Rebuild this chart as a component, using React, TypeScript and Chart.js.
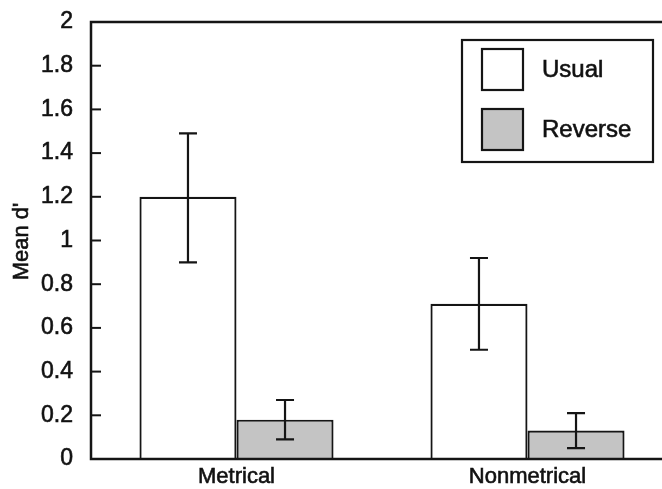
import React, { useEffect, useRef } from "react";
import { Chart, registerables } from "chart.js";

Chart.register(...registerables);

const categories = ["Metrical", "Nonmetrical"];
const seriesNames = ["Usual", "Reverse"];
const usualMeans = [1.2, 0.71];
const usualLow = [0.9, 0.5];
const usualHigh = [1.49, 0.92];
const reverseMeans = [0.18, 0.13];
const reverseLow = [0.09, 0.05];
const reverseHigh = [0.27, 0.21];
const yMin = 0;
const yMax = 2;
const yStep = 0.2;
const yTitle = "Mean d'";

const INK = "#151515";
const FONT = "'Liberation Sans', Arial, Helvetica, sans-serif";

const errLows = [usualLow, reverseLow];
const errHighs = [usualHigh, reverseHigh];

const framePlugin = {
  id: "frame",
  afterDatasetsDraw(chart: any) {
    const { ctx, chartArea, scales } = chart;
    ctx.save();
    ctx.strokeStyle = INK;
    ctx.lineWidth = 2.2;
    chart.data.datasets.forEach((_: any, i: number) => {
      const meta = chart.getDatasetMeta(i);
      meta.data.forEach((el: any, j: number) => {
        const x = el.x;
        const yh = scales.y.getPixelForValue(errHighs[i][j]);
        const yl = scales.y.getPixelForValue(errLows[i][j]);
        ctx.beginPath();
        ctx.moveTo(x, yh);
        ctx.lineTo(x, yl);
        ctx.moveTo(x - 9, yh);
        ctx.lineTo(x + 9, yh);
        ctx.moveTo(x - 9, yl);
        ctx.lineTo(x + 9, yl);
        ctx.stroke();
      });
    });
    ctx.lineWidth = 2.5;
    ctx.strokeRect(
      chartArea.left,
      chartArea.top,
      chartArea.right - chartArea.left,
      chartArea.bottom - chartArea.top
    );
    ctx.lineWidth = 2;
    scales.y.ticks.forEach((t: any) => {
      const y = scales.y.getPixelForValue(t.value);
      ctx.beginPath();
      ctx.moveTo(chartArea.left, y);
      ctx.lineTo(chartArea.left + 10, y);
      ctx.stroke();
    });
    ctx.restore();
  },
  afterDraw(chart: any) {
    const { ctx, chartArea } = chart;
    ctx.save();
    // y title
    ctx.save();
    ctx.translate(22, (chartArea.top + chartArea.bottom) / 2 + 1);
    ctx.rotate(-Math.PI / 2);
    ctx.font = `22px ${FONT}`;
    ctx.fillStyle = "#111";
    ctx.strokeStyle = "#111";
    ctx.lineWidth = 0.6;
    ctx.textAlign = "center";
    ctx.textBaseline = "middle";
    ctx.fillText(yTitle, 0, 0);
    ctx.strokeText(yTitle, 0, 0);
    ctx.restore();
    // legend
    const bx = chartArea.left + 371;
    const by = chartArea.top + 18;
    ctx.fillStyle = "#ffffff";
    ctx.fillRect(bx, by, 191, 122);
    ctx.strokeStyle = INK;
    ctx.lineWidth = 2.2;
    ctx.strokeRect(bx, by, 191, 122);
    chart.data.datasets.forEach((ds: any, i: number) => {
      const sx = bx + 20;
      const sy = by + 9 + i * 60;
      ctx.fillStyle = ds.backgroundColor;
      ctx.fillRect(sx, sy, 41, 41);
      ctx.strokeRect(sx, sy, 41, 41);
      ctx.fillStyle = "#111";
      ctx.strokeStyle = "#111";
      ctx.lineWidth = 0.6;
      ctx.font = `24px ${FONT}`;
      ctx.textAlign = "left";
      ctx.textBaseline = "middle";
      ctx.fillText(ds.label, bx + 80, sy + 21);
      ctx.strokeText(ds.label, bx + 80, sy + 21);
      ctx.strokeStyle = INK;
      ctx.lineWidth = 2.2;
    });
    ctx.restore();
  },
};

export default function App() {
  const ref = useRef<HTMLCanvasElement | null>(null);
  useEffect(() => {
    document.body.style.overflow = "hidden";
    const canvas = ref.current!;
    const chart = new Chart(canvas, {
      type: "bar",
      data: {
        labels: categories,
        datasets: [
          {
            label: seriesNames[0],
            data: usualMeans,
            backgroundColor: "#ffffff",
            borderColor: INK,
            borderWidth: 2.2,
          },
          {
            label: seriesNames[1],
            data: reverseMeans,
            backgroundColor: "#c4c4c4",
            borderColor: INK,
            borderWidth: 2.2,
          },
        ],
      },
      options: {
        animation: false,
        responsive: false,
        events: [],
        layout: { padding: { top: 22, right: 27, left: 0, bottom: 0 } },
        datasets: {
          bar: { categoryPercentage: 0.667, barPercentage: 1 },
        },
        plugins: {
          legend: { display: false },
          tooltip: { enabled: false },
        },
        scales: {
          x: {
            grid: { display: false, drawTicks: false },
            border: { display: false },
            ticks: {
              color: "#111",
              font: { family: FONT, size: 22 },
              padding: 5,
              textStrokeColor: "#111",
              textStrokeWidth: 0.6,
            },
            afterFit(scale: any) {
              scale.height = 30;
              scale.paddingLeft = 0;
              scale.paddingRight = 0;
            },
          },
          y: {
            min: yMin,
            max: yMax,
            grid: { display: false, drawTicks: false },
            border: { display: false },
            ticks: {
              stepSize: yStep,
              color: "#111",
              font: { family: FONT, size: 23 },
              padding: 18,
              textStrokeColor: "#111",
              textStrokeWidth: 0.6,
              callback: (v: any) => String(Number(Number(v).toFixed(1))),
            },
            afterFit(scale: any) {
              scale.width = 91;
              scale.paddingTop = 0;
              scale.paddingBottom = 0;
            },
          },
        },
      },
      plugins: [framePlugin],
    });
    return () => chart.destroy();
  }, []);
  return (
    <canvas
      ref={ref}
      width={700}
      height={489}
      style={{ position: "absolute", left: 0, top: 0, width: 700, height: 489 }}
    />
  );
}
